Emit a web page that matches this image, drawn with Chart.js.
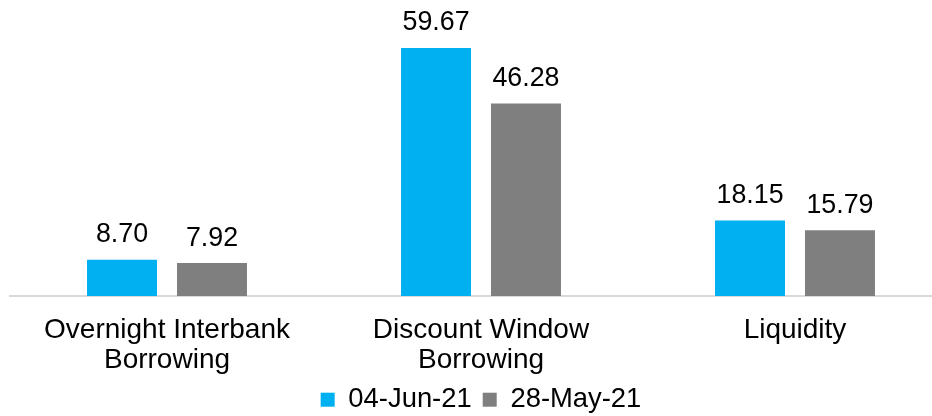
<!DOCTYPE html>
<html>
<head>
<meta charset="utf-8">
<script src="https://cdn.jsdelivr.net/npm/chart.js@4.4.0/dist/chart.umd.min.js"></script>
<style>
    html, body { margin: 0; padding: 0; background: #fff; overflow: hidden; }
    #wrap { width: 932px; height: 416px; overflow: hidden; }
</style>
</head>
<body>
<div id="wrap"><canvas id="canvas" width="952" height="416"></canvas></div>
<script>
    // Chart data
    var categories = [['Overnight Interbank', 'Borrowing'], ['Discount Window', 'Borrowing'], ['Liquidity']];
    var seriesNames = ['04-Jun-21', '28-May-21'];
    var jun04 = [8.70, 59.67, 18.15];
    var may28 = [7.92, 46.28, 15.79];

    var FONT = "'Liberation Sans', Arial, sans-serif";

    // Draw value labels above each bar
    var valueLabels = {
        id: 'valueLabels',
        afterDatasetsDraw: function (chart) {
            var ctx = chart.ctx;
            ctx.save();
            ctx.font = '26.8px ' + FONT;
            ctx.fillStyle = '#000';
            ctx.textAlign = 'center';
            ctx.textBaseline = 'alphabetic';
            chart.data.datasets.forEach(function (ds, i) {
                chart.getDatasetMeta(i).data.forEach(function (bar, j) {
                    ctx.fillText(ds.data[j].toFixed(2), bar.x, bar.y - 17.5);
                });
            });
            ctx.restore();
        }
    };

    var ctx = document.getElementById('canvas').getContext('2d');
    new Chart(ctx, {
        type: 'bar',
        data: {
            labels: categories,
            datasets: [{
                label: seriesNames[0],
                data: jun04,
                backgroundColor: '#00B0F0',
                categoryPercentage: 0.573,
                barPercentage: 0.778
            }, {
                label: seriesNames[1],
                data: may28,
                backgroundColor: '#7F7F7F',
                categoryPercentage: 0.573,
                barPercentage: 0.778
            }]
        },
        options: {
            responsive: false,
            animation: false,
            layout: { padding: { left: 10, right: 0, top: 0, bottom: 0 } },
            plugins: {
                legend: {
                    position: 'bottom',
                    maxHeight: 41,
                    labels: {
                        font: { family: FONT, size: 27.4 },
                        color: '#000',
                        boxWidth: 14,
                        boxHeight: 14,
                        padding: 11
                    }
                },
                tooltip: { enabled: false }
            },
            scales: {
                x: {
                    grid: { display: false, drawTicks: false },
                    border: { display: true, color: '#D9D9D9', width: 2 },
                    ticks: {
                        font: { family: FONT, size: 28, lineHeight: '30px' },
                        color: '#000',
                        padding: 19,
                        maxRotation: 0
                    },
                    // two label lines + padding
                    afterFit: function (scale) { scale.height = 79; }
                },
                y: {
                    display: false,
                    min: 0,
                    max: 71.2
                }
            }
        },
        plugins: [valueLabels]
    });
</script>
</body>
</html>
